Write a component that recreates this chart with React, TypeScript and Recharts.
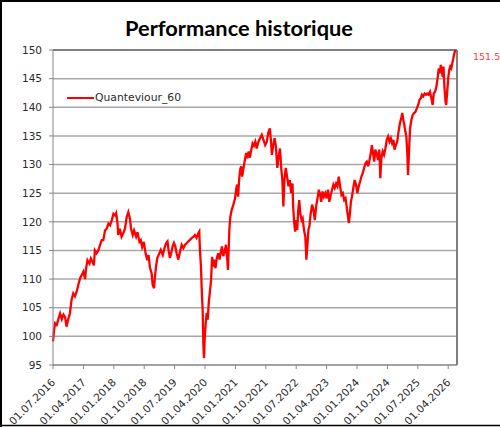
import React from 'react';
import { LineChart, Line, XAxis, YAxis, CartesianGrid, Legend, ReferenceLine } from 'recharts';

// months since 01.07.2016
const months = [
  0, 0.3, 0.6, 1.1, 1.6, 2.1, 2.6, 3.1, 3.6, 4.0, 4.5, 5.0, 5.5, 6.0, 6.5, 7.0, 7.5, 8.0, 8.5, 9.0,
  9.5, 9.8, 10.2, 10.8, 11.2, 11.7, 12.1, 12.4, 12.9, 13.4, 13.9, 14.4, 14.9, 15.4, 15.9, 16.4, 16.9, 17.4, 17.9, 18.4,
  18.7, 19.1, 19.3, 19.8, 20.3, 20.8, 21.3, 21.8, 22.3, 22.8, 23.1, 23.6, 24.0, 24.6, 25.0, 25.6, 26.0, 26.4, 26.9, 27.4,
  27.9, 28.3, 28.7, 29.2, 29.5, 29.9, 30.2, 30.5, 30.9, 31.5, 31.9, 32.5, 33.0, 33.5, 33.9, 34.2, 34.6, 35.0, 35.4, 35.8,
  36.2, 36.6, 37.1, 37.6, 38.1, 38.6, 39.1, 39.6, 40.1, 40.6, 41.1, 41.6, 42.0, 42.5, 43.0, 43.3, 43.5, 43.8, 44.1, 44.3,
  44.5, 44.7, 44.9, 45.2, 45.5, 45.8, 46.1, 46.5, 46.8, 47.1, 47.4, 47.7, 48.1, 48.5, 48.9, 49.3, 49.7, 50.0, 50.4, 50.8,
  51.2, 51.5, 51.8, 52.0, 52.2, 52.5, 52.9, 53.4, 53.9, 54.2, 54.5, 54.8, 55.1, 55.4, 55.7, 56.0, 56.4, 56.8, 57.2, 57.5,
  57.9, 58.3, 58.6, 59.1, 59.5, 59.9, 60.3, 60.8, 61.3, 61.8, 62.3, 62.8, 63.3, 63.7, 64.2, 64.5, 64.8, 65.2, 65.6, 66.0,
  66.4, 66.8, 67.2, 67.6, 67.9, 68.2, 68.5, 68.9, 69.3, 69.7, 70.1, 70.5, 70.9, 71.1, 71.4, 71.7, 72.0, 72.3, 72.6, 72.9,
  73.2, 73.6, 73.9, 74.3, 74.7, 75.0, 75.3, 75.6, 75.9, 76.3, 76.7, 77.1, 77.5, 77.9, 78.3, 78.7, 79.0, 79.4, 79.8, 80.2,
  80.6, 81.0, 81.4, 81.8, 82.2, 82.6, 83.0, 83.4, 83.8, 84.2, 84.6, 85.0, 85.4, 85.8, 86.2, 86.6, 87.0, 87.3, 87.6, 87.9,
  88.2, 88.5, 88.9, 89.3, 89.7, 90.1, 90.5, 90.9, 91.3, 91.7, 92.1, 92.5, 92.9, 93.3, 93.6, 94.0, 94.4, 94.8, 95.1, 95.4,
  95.8, 96.2, 96.6, 96.9, 97.2, 97.6, 98.0, 98.4, 98.8, 99.2, 99.6, 100.0, 100.4, 100.8, 101.1, 101.5, 101.9, 102.3, 102.7, 103.1,
  103.4, 103.7, 104.0, 104.3, 104.6, 104.9, 105.1, 105.4, 105.7, 106.1, 106.5, 106.9, 107.3, 107.7, 108.1, 108.5, 108.9, 109.2, 109.6, 110.0,
  110.4, 110.8, 111.2, 111.6, 112.0, 112.4, 112.7, 113.1, 113.5, 113.9, 114.2, 114.5, 114.8, 115.1, 115.4, 115.6, 115.9, 116.2, 116.4, 116.7,
  117.0, 117.3, 117.6, 117.9, 118.2, 118.5, 118.8, 119.1, 119.3,
];

const values = [
  99.1, 101.0, 102.3, 102.0, 103.0, 104.0, 103.0, 103.8, 103.3, 101.7, 103.0, 104.0, 106.4, 107.5, 107.0, 107.8, 109.0, 110.1, 110.7, 111.3,
  110.0, 111.9, 113.3, 112.7, 113.6, 113.0, 112.4, 115.0, 114.5, 115.0, 115.9, 116.8, 116.8, 118.5, 118.8, 119.7, 119.4, 120.3, 121.4, 121.1,
  121.5, 119.7, 117.7, 118.8, 117.4, 118.0, 118.8, 120.8, 121.7, 120.5, 118.8, 117.7, 118.5, 117.4, 118.2, 116.5, 116.8, 115.6, 116.5, 114.5,
  113.3, 114.2, 112.0, 111.0, 109.0, 108.4, 110.5, 112.2, 113.7, 114.5, 115.1, 114.2, 115.4, 116.3, 116.6, 115.1, 113.7, 114.5, 115.7, 116.3,
  115.7, 114.5, 113.4, 114.8, 116.0, 115.4, 116.0, 116.3, 116.6, 116.9, 117.2, 117.4, 117.7, 117.2, 118.0, 118.3, 115.1, 112.2, 107.0, 104.7,
  98.8, 96.2, 99.4, 102.3, 104.1, 102.9, 105.8, 108.1, 109.9, 113.9, 112.2, 113.4, 111.9, 113.7, 114.5, 113.4, 114.8, 115.7, 114.0, 114.8,
  116.0, 114.0, 111.6, 115.1, 118.6, 120.9, 122.1, 123.0, 124.1, 125.6, 126.5, 124.4, 127.3, 129.1, 129.7, 127.9, 129.4, 130.8, 132.0, 131.1,
  132.3, 131.2, 132.3, 133.7, 133.3, 134.0, 132.8, 134.0, 134.6, 135.2, 134.3, 133.4, 134.0, 135.5, 136.3, 134.3, 131.7, 133.4, 134.6, 133.1,
  129.4, 131.4, 132.8, 129.1, 127.3, 122.7, 127.3, 129.4, 127.9, 126.2, 127.3, 125.0, 126.7, 122.7, 119.8, 118.3, 120.3, 118.6, 122.1, 123.8,
  121.5, 120.3, 120.6, 118.6, 117.4, 113.4, 115.7, 118.6, 119.2, 121.5, 123.0, 122.1, 120.3, 122.7, 124.1, 125.6, 125.0, 123.5, 125.3, 124.4,
  125.0, 124.1, 125.6, 123.5, 124.7, 125.6, 126.5, 125.9, 126.7, 126.2, 127.9, 126.2, 124.7, 125.0, 123.8, 124.1, 122.4, 121.0, 119.8, 121.5,
  123.5, 124.4, 125.9, 127.3, 126.5, 125.0, 126.2, 127.0, 127.9, 128.5, 129.4, 130.2, 130.5, 129.7, 130.5, 131.7, 133.4, 131.7, 130.5, 132.6,
  132.0, 130.8, 132.6, 127.6, 131.1, 132.3, 131.7, 132.8, 134.3, 134.9, 134.0, 134.6, 133.7, 134.3, 132.6, 133.4, 134.0, 135.8, 137.2, 138.1,
  139.0, 137.8, 136.9, 135.8, 134.9, 131.7, 128.2, 132.3, 136.3, 137.8, 138.7, 139.0, 139.2, 139.8, 140.4, 141.3, 141.6, 142.2, 141.9, 142.4,
  142.2, 142.4, 142.2, 142.7, 141.6, 140.4, 142.4, 142.7, 143.6, 145.3, 146.8, 145.9, 147.4, 146.2, 145.3, 147.1, 143.3, 141.0, 140.4, 142.7,
  145.1, 146.5, 147.1, 146.8, 147.7, 148.5, 149.4, 150.0, 151.5,
];

const seriesName = 'Quanteviour_60';
const titleText = 'Performance historique';

const xTickMonths = [0, 9, 18, 27, 36, 45, 54, 63, 72, 81, 90, 99, 108, 117];
const xTickLabels = [
  '01.07.2016', '01.04.2017', '01.01.2018', '01.10.2018', '01.07.2019', '01.04.2020', '01.01.2021',
  '01.10.2021', '01.07.2022', '01.04.2023', '01.01.2024', '01.10.2024', '01.07.2025', '01.04.2026',
];
const yTicks = [95, 100, 105, 110, 115, 120, 125, 130, 135, 140, 145, 150];

const data = months.map((m, i) => ({ m, v: values[i] }));
const lastIndex = data.length - 1;

const FONT = 'DejaVu Sans';
const TEXT = '#2b2b2b';
const AXIS = '#868686';

const XTick = (props: any) => {
  const { x, y, payload } = props;
  const i = xTickMonths.indexOf(payload.value);
  const px = x + 3;
  const py = y + 12;
  return (
    <text x={px} y={py} transform={`rotate(-45 ${px} ${py})`} textAnchor="end" fontSize={10.5} fill={TEXT} fontFamily={FONT}>
      {xTickLabels[i]}
    </text>
  );
};

const LastLabel = (props: any) => {
  const { x, y, index, value } = props;
  if (index !== lastIndex) return null;
  return (
    <text x={x + 17} y={y + 19} fontSize={9.5} fill="#ff3a3a" fontFamily={FONT}>
      {value}
    </text>
  );
};

const renderLegend = () => (
  <div style={{ display: 'flex', alignItems: 'center', fontFamily: FONT, fontSize: 10.8, color: TEXT, whiteSpace: 'nowrap' }}>
    <svg width={27} height={4} style={{ display: 'block' }}>
      <line x1={0} y1={2} x2={27} y2={2} stroke="#ff0000" strokeWidth={2} />
    </svg>
    <span style={{ marginLeft: 1 }}>{seriesName}</span>
  </div>
);

export default function App() {
  return (
    <div style={{ position: 'absolute', left: 0, top: 0, width: 500, height: 427, background: '#fff', overflow: 'hidden' }}>
      <LineChart width={500} height={427} data={data} margin={{ top: 50, right: 43, bottom: 7, left: 8 }}>
        <CartesianGrid vertical={false} stroke="#a8a8a8" strokeWidth={1.5} />
        <XAxis
          dataKey="m"
          type="number"
          domain={[0, 119.6]}
          ticks={xTickMonths}
          interval={0}
          height={55}
          tickSize={4}
          stroke={AXIS}
          tick={<XTick />}
        />
        <YAxis
          type="number"
          domain={[95, 150]}
          ticks={yTicks}
          allowDataOverflow
          width={45}
          tickSize={4}
          tickMargin={7}
          stroke={AXIS}
          tick={{ fill: TEXT, fontSize: 10.5, fontFamily: FONT }}
        />
        <ReferenceLine y={150} stroke="#7f7f7f" strokeWidth={2} />
        <ReferenceLine x={119.6} stroke="#7f7f7f" strokeWidth={2} />
        <Legend
          layout="horizontal"
          verticalAlign="middle"
          align="center"
          wrapperStyle={{ left: 67, top: 91, width: 'auto', height: 'auto' }}
          content={renderLegend}
        />
        <Line
          type="linear"
          dataKey="v"
          name={seriesName}
          stroke="#ff0000"
          strokeWidth={2.3}
          dot={false}
          isAnimationActive={false}
          label={<LastLabel />}
        />
      </LineChart>
      <svg width={500} height={427} style={{ position: 'absolute', left: 0, top: 0, pointerEvents: 'none' }}>
        <text x={239} y={36} textAnchor="middle" textLength={228} lengthAdjust="spacingAndGlyphs" fontFamily="Lato" fontWeight="bold" fontSize={21} fill="#000">
          {titleText}
        </text>
        <path d="M 1 427 L 1 1 L 500 1" stroke="#000" strokeWidth={2} fill="none" />
        <line x1={0} y1={425.5} x2={500} y2={425.5} stroke="#000" strokeWidth={1.5} />
      </svg>
    </div>
  );
}
